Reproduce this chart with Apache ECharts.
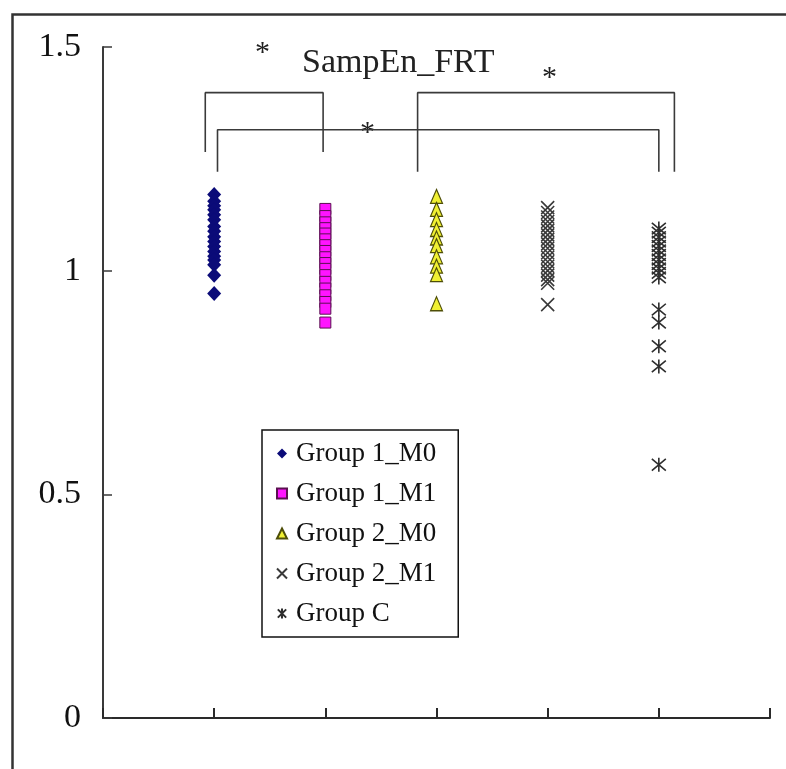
<!DOCTYPE html>
<html>
<head>
<meta charset="utf-8">
<script src="https://cdn.jsdelivr.net/npm/echarts@6/dist/echarts.min.js"></script>
<style>
  html, body { margin: 0; padding: 0; background: #fff; }
  #chart { width: 786px; height: 769px; }
</style>
</head>
<body>
<div id="chart"></div>
<script>
// SampEn_FRT values per group
const groupNames = ['Group 1_M0', 'Group 1_M1', 'Group 2_M0', 'Group 2_M1', 'Group C'];
const groupPositions = [1, 2, 3, 4, 5];

const group1M0 = [1.170, 1.155, 1.145, 1.136, 1.125, 1.114, 1.099, 1.088, 1.076, 1.065, 1.054, 1.043, 1.032, 1.024, 1.013, 0.990, 0.949];
const group1M1 = [1.138, 1.122, 1.108, 1.095, 1.083, 1.070, 1.057, 1.044, 1.030, 1.017, 1.004, 0.990, 0.975, 0.960, 0.945, 0.930, 0.915, 0.884];
const group2M0 = [1.166, 1.137, 1.114, 1.092, 1.073, 1.056, 1.031, 1.010, 0.991, 0.926];
const group2M1 = [1.141, 1.130, 1.120, 1.110, 1.100, 1.090, 1.080, 1.070, 1.060, 1.050, 1.040, 1.030, 1.020, 1.010, 1.000, 0.990, 0.980, 0.972, 0.924];
const groupC   = [1.094, 1.085, 1.075, 1.065, 1.055, 1.045, 1.035, 1.025, 1.015, 1.005, 0.995, 0.985, 0.913, 0.884, 0.831, 0.786, 0.566];

// y-axis tick labels
const yTickLabels = { '0': '0', '0.5': '0.5', '1': '1', '1.5': '1.5' };

// significance brackets, in axis units
const bracketA = [[0.92, 1.265], [0.92, 1.398], [1.98, 1.398], [1.98, 1.265]];
const bracketB = [[1.03, 1.221], [1.03, 1.315], [5.00, 1.315], [5.00, 1.221]];
const bracketC = [[2.83, 1.221], [2.83, 1.398], [5.14, 1.398], [5.14, 1.221]];

const SERIF = '"Liberation Serif", "Times New Roman", serif';

const xMark = 'path://M0,0L10,10M10,0L0,10';
const starMark = 'path://M0,0L10,10M10,0L0,10M5,-1L5,11';

function pts(pos, vals) { return vals.map(v => [pos, v]); }

const chart = echarts.init(document.getElementById('chart'), null, { renderer: 'canvas' });

const bracketStyle = { color: '#3a3a3a', width: 1.6 };
function bracketSeries(data) {
  return {
    type: 'line', data: data, symbol: 'none', silent: true,
    lineStyle: bracketStyle, z: 1, legendHoverLink: false
  };
}

chart.setOption({
  animation: false,
  backgroundColor: '#ffffff',
  grid: { left: 103, right: 16, top: 47, bottom: 51 },
  xAxis: {
    type: 'value', min: 0, max: 6, interval: 1,
    axisLine: { show: true, onZero: false, lineStyle: { color: '#2a2a2a', width: 2 } },
    axisTick: { show: true, inside: true, length: 10, lineStyle: { color: '#2a2a2a', width: 2 } },
    axisLabel: { show: false },
    splitLine: { show: false }
  },
  yAxis: {
    type: 'value', min: 0, max: 1.5, interval: 0.5,
    axisLine: { show: true, lineStyle: { color: '#3a3a3a', width: 2 } },
    axisTick: { show: true, inside: true, length: 9, lineStyle: { color: '#3a3a3a', width: 1.5 } },
    axisLabel: {
      margin: 22, fontFamily: SERIF, fontSize: 34, color: '#111',
      formatter: v => yTickLabels[String(v)] ?? String(v)
    },
    splitLine: { show: false }
  },
  legend: {
    orient: 'vertical', left: 262, top: 430,
    itemGap: 13, itemWidth: 10, itemHeight: 10,
    padding: [10, 22, 10, 14],
    borderColor: '#111', borderWidth: 1.5,
    backgroundColor: '#fff',
    textStyle: { fontFamily: SERIF, fontSize: 27, color: '#111', padding: [0, 0, 0, 4] },
    data: groupNames
  },
  graphic: [
    { type: 'rect', left: 10, top: 12, shape: { width: 820, height: 820 },
      style: { fill: 'none', stroke: '#333', lineWidth: 2.5 }, silent: true, z: -1 },
    { type: 'text', left: 302, top: 46, style: { text: 'SampEn_FRT', font: '34px ' + SERIF, fill: '#222' } },
    { type: 'text', left: 255, top: 38, style: { text: '*', font: '30px ' + SERIF, fill: '#222' } },
    { type: 'text', left: 542, top: 63, style: { text: '*', font: '30px ' + SERIF, fill: '#222' } },
    { type: 'text', left: 360, top: 118, style: { text: '*', font: '30px ' + SERIF, fill: '#222' } }
  ],
  series: [
    bracketSeries(bracketA),
    bracketSeries(bracketB),
    bracketSeries(bracketC),
    {
      name: groupNames[0], type: 'scatter', data: pts(groupPositions[0], group1M0),
      symbol: 'diamond', symbolSize: [14, 15],
      itemStyle: { color: '#0b0b78', opacity: 1 }, z: 3
    },
    {
      name: groupNames[1], type: 'scatter', data: pts(groupPositions[1], group1M1),
      symbol: 'rect', symbolSize: 11,
      itemStyle: { color: '#ff14ff', borderColor: '#5a1050', borderWidth: 1, opacity: 1 }, z: 3
    },
    {
      name: groupNames[2], type: 'scatter', data: pts(groupPositions[2], group2M0),
      symbol: 'triangle', symbolSize: [12, 14],
      itemStyle: { color: '#f0f032', borderColor: '#4e4e08', borderWidth: 1.2, opacity: 1 }, z: 3
    },
    {
      name: groupNames[3], type: 'scatter', data: pts(groupPositions[3], group2M1),
      symbol: xMark, symbolSize: 13,
      itemStyle: { color: 'rgba(0,0,0,0)', borderColor: '#3a3a3a', borderWidth: 1.6, opacity: 1 }, z: 3
    },
    {
      name: groupNames[4], type: 'scatter', data: pts(groupPositions[4], groupC),
      symbol: starMark, symbolSize: 14,
      itemStyle: { color: 'rgba(0,0,0,0)', borderColor: '#2e2e2e', borderWidth: 1.6, opacity: 1 }, z: 3
    }
  ]
});
</script>
</body>
</html>
